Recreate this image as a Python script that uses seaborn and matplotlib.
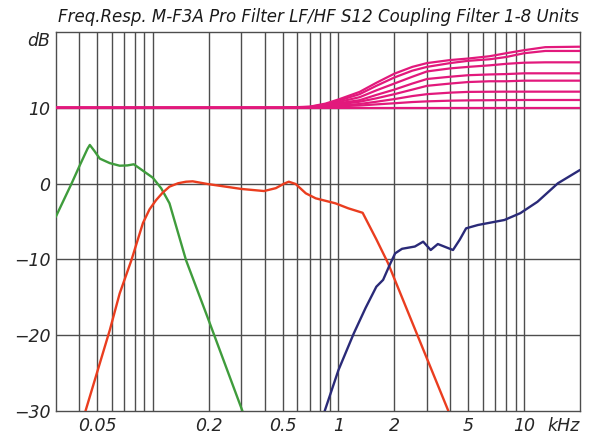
import numpy as np
import pandas as pd
import matplotlib
matplotlib.use("Agg")
import matplotlib.pyplot as plt
import seaborn as sns

# ---------------- data ----------------
# frequency in kHz, level in dB

# LF (green)
f_lf = [0.03, 0.0365, 0.0405, 0.0445, 0.0458, 0.0485, 0.0518, 0.0587, 0.0663,
        0.073, 0.079, 0.0885, 0.100, 0.111, 0.123, 0.151, 0.197, 0.304]
db_lf = [-4.4, 0.0, 2.45, 4.6, 5.1, 4.3, 3.3, 2.7, 2.36,
         2.4, 2.55, 1.7, 0.78, -0.62, -2.6, -10.1, -17.6, -30.0]

# MF (red)
f_mf = [0.0434, 0.0587, 0.0663, 0.0767, 0.0885, 0.096, 0.104, 0.113, 0.123,
        0.137, 0.151, 0.164, 0.197, 0.299, 0.397, 0.46, 0.51, 0.54, 0.588,
        0.667, 0.754, 0.963, 1.13, 1.35, 1.6, 1.85, 2.92, 3.91]
db_mf = [-30.0, -19.3, -14.5, -10.1, -5.2, -3.4, -2.2, -1.2, -0.4,
         0.05, 0.25, 0.3, -0.05, -0.7, -0.98, -0.6, 0.0, 0.25, -0.05,
         -1.28, -1.94, -2.6, -3.26, -3.85, -7.35, -10.5, -22.4, -30.0]

# HF (blue)
f_hf = [0.843, 1.0, 1.21, 1.4, 1.6, 1.74, 1.89, 2.02, 2.2, 2.58, 2.86, 3.14,
        3.43, 4.14, 4.5, 4.87, 5.64, 7.83, 9.54, 11.8, 15.2, 20.0]
db_hf = [-30.0, -24.6, -19.75, -16.4, -13.6, -12.7, -10.7, -9.2, -8.6, -8.3,
         -7.66, -8.76, -7.97, -8.76, -7.4, -5.9, -5.46, -4.8, -3.9, -2.4,
         0.04, 1.8]

# coupling filter, 1-8 units (magenta)
f_cf = [0.03, 0.5, 0.7, 0.85, 1.0, 1.3, 1.6, 2.0, 2.5, 3.0, 4.0, 5.0, 6.5,
        8.0, 10.0, 13.0, 20.0]
cf_units = {
    1: [10.0, 10.0, 10.0, 10.0, 10.0, 10.0, 10.0, 10.0, 10.0, 10.0, 10.0,
        10.0, 10.0, 10.0, 10.0, 10.0, 10.0],
    2: [10.0, 10.0, 10.02, 10.08, 10.2, 10.3, 10.45, 10.6, 10.76, 10.85,
        10.94, 10.98, 11.0, 11.02, 11.03, 11.03, 11.03],
    3: [10.0, 10.0, 10.03, 10.12, 10.3, 10.5, 10.8, 11.15, 11.55, 11.8,
        12.0, 12.1, 12.12, 12.13, 12.13, 12.13, 12.13],
    4: [10.0, 10.0, 10.05, 10.2, 10.45, 10.8, 11.25, 11.8, 12.4, 12.9,
        13.2, 13.4, 13.5, 13.5, 13.58, 13.58, 13.58],
    5: [10.0, 10.0, 10.07, 10.28, 10.6, 11.0, 11.7, 12.4, 13.2, 13.8,
        14.1, 14.3, 14.4, 14.45, 14.55, 14.55, 14.55],
    6: [10.0, 10.0, 10.1, 10.36, 10.76, 11.4, 12.3, 13.2, 14.1, 14.8,
        15.2, 15.4, 15.6, 15.8, 15.95, 16.0, 16.0],
    7: [10.0, 10.0, 10.12, 10.45, 10.94, 11.8, 12.9, 14.0, 14.9, 15.4,
        15.9, 16.2, 16.4, 16.7, 17.2, 17.5, 17.5],
    8: [10.0, 10.02, 10.15, 10.55, 11.1, 12.1, 13.3, 14.5, 15.4, 15.9,
        16.3, 16.5, 16.8, 17.2, 17.6, 18.0, 18.06],
}

x_ticks = [0.05, 0.2, 0.5, 1, 2, 5, 10, 20]
x_labels = ["0.05", "0.2", "0.5", "1", "2", "5", "10", "kHz"]
y_ticks = [-30, -20, -10, 0, 10, 20]
y_labels = ["\u221230", "\u221220", "\u221210", "0", "10", "dB"]

title = "Freq.Resp. M-F3A Pro Filter LF/HF S12 Coupling Filter 1-8 Units"

# ---------------- build frames ----------------
df_drv = pd.concat([
    pd.DataFrame({"f": f_lf, "db": db_lf, "way": "LF"}),
    pd.DataFrame({"f": f_mf, "db": db_mf, "way": "MF"}),
    pd.DataFrame({"f": f_hf, "db": db_hf, "way": "HF"}),
], ignore_index=True)

df_cf = pd.concat([
    pd.DataFrame({"f": f_cf, "db": v, "units": str(k)}) for k, v in cf_units.items()
], ignore_index=True)

# ---------------- plot ----------------
sns.set_style("white")
plt.rcParams["font.family"] = ["DejaVu Sans"]

fig = plt.figure(figsize=(5.89, 4.36), dpi=100)
ax = fig.add_axes([0.0946, 0.0573, 0.8901, 0.8693])

grid_col = "#4d4d4d"
minor = [m * 10.0 ** e for e in (-2, -1, 0, 1) for m in range(1, 10)]
for v in minor:
    if 0.03 < v < 20:
        ax.axvline(v, color=grid_col, lw=1.0, zorder=1)
for h in [-20, -10, 0, 10]:
    ax.axhline(h, color=grid_col, lw=1.0, zorder=1)

sns.lineplot(data=df_cf, x="f", y="db", units="units", estimator=None,
             color="#e2197c", lw=1.6, ax=ax, zorder=3, sort=False)
sns.lineplot(data=df_drv, x="f", y="db", hue="way", estimator=None,
             palette={"LF": "#3f9c3c", "MF": "#ea3d1f", "HF": "#2a2a78"},
             lw=1.7, ax=ax, zorder=4, sort=False, legend=False)

ax.set_xscale("log")
ax.set_xlim(0.03, 20)
ax.set_ylim(-30, 20)
ax.set_xticks(x_ticks)
ax.set_xticklabels(x_labels)
ax.set_yticks(y_ticks)
ax.set_yticklabels(y_labels)
ax.minorticks_off()
ax.tick_params(length=0, labelsize=12.5, pad=4)
for lab in ax.get_xticklabels() + ax.get_yticklabels():
    lab.set_style("italic")
ax.get_xticklabels()[-1].set_ha("right")
ax.get_yticklabels()[-1].set_va("top")
ax.set_xlabel("")
ax.set_ylabel("")
for s in ax.spines.values():
    s.set_color(grid_col)
    s.set_linewidth(1.0)

fig.text(0.540, 0.960, title, ha="center", va="center", fontsize=12,
         style="italic", color="#1a1a1a")

fig.savefig("out.png", dpi=100)
